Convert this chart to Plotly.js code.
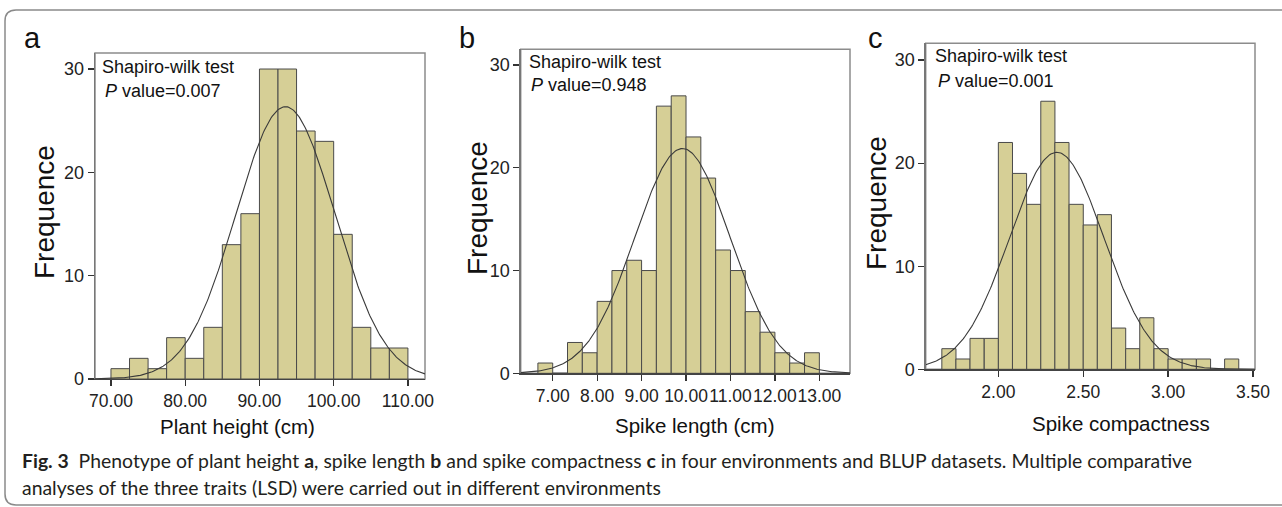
<!DOCTYPE html>
<html>
<head>
<meta charset="utf-8">
<script src="https://cdn.plot.ly/plotly-3.0.1.min.js"></script>
<style>
  html, body { margin: 0; padding: 0; background: #fff; }
  #chart { width: 1282px; height: 507px; }
</style>
</head>
<body>
<div id="chart"></div>
<script>
// ---------- data ----------
const sampleSize = 176;

// Panel a: plant height (cm), bin width 2.5
const aBinLower = [70, 72.5, 75, 77.5, 80, 82.5, 85, 87.5, 90, 92.5, 95, 97.5, 100, 102.5, 105, 107.5];
const aCounts   = [1, 2, 1, 4, 2, 5, 13, 16, 30, 30, 24, 23, 14, 5, 3, 3];
const aBinWidth = 2.5;
const aFit = { mean: 93.5, sd: 6.66 };
const aTickVals = [70, 80, 90, 100, 110];
const aTickText = ["70.00", "80.00", "90.00", "100.00", "110.00"];

// Panel b: spike length (cm), bin width 1/3
const bBinLower = [6.667, 7.000, 7.333, 7.667, 8.000, 8.333, 8.667, 9.000, 9.333, 9.667,
                   10.000, 10.333, 10.667, 11.000, 11.333, 11.667, 12.000, 12.333, 12.667];
const bCounts   = [1, 0, 3, 2, 7, 10, 11, 10, 26, 27, 23, 19, 12, 10, 6, 4, 2, 1, 2];
const bBinWidth = 1 / 3;
const bFit = { mean: 9.92, sd: 1.07 };
const bTickVals = [7, 8, 9, 10, 11, 12, 13];
const bTickText = ["7.00", "8.00", "9.00", "10.00", "11.00", "12.00", "13.00"];

// Panel c: spike compactness, bin width 1/12
const cBinLower = [1.667, 1.750, 1.833, 1.917, 2.000, 2.083, 2.167, 2.250, 2.333, 2.417, 2.500,
                   2.583, 2.667, 2.750, 2.833, 2.917, 3.000, 3.083, 3.167, 3.250, 3.333];
const cCounts   = [2, 1, 3, 3, 22, 19, 16, 26, 22, 16, 14, 15, 4, 2, 5, 2, 1, 1, 1, 0, 1];
const cBinWidth = 1 / 12;
const cFit = { mean: 2.344, sd: 0.278 };
const cTickVals = [2.0, 2.5, 3.0, 3.5];
const cTickText = ["2.00", "2.50", "3.00", "3.50"];

const yTickVals = [0, 10, 20, 30];
const yTitle = "Frequence";
const xTitles = ["Plant height (cm)", "Spike length (cm)", "Spike compactness"];
const panelLetters = ["a", "b", "c"];
const pValues = ["0.007", "0.948", "0.001"];
const testName = "Shapiro-wilk test";
const captionLine1 = "<b>Fig. 3</b>  Phenotype of plant height <b>a</b>, spike length <b>b</b> and spike compactness <b>c</b> in four environments and BLUP datasets. Multiple comparative";
const captionLine2 = "analyses of the three traits (LSD) were carried out in different environments";

// ---------- layout geometry (pixels) ----------
const W = 1282, H = 507;
const px = v => v / W;
const py = v => 1 - v / H;

const panels = [
  { lower: aBinLower, counts: aCounts, w: aBinWidth, fit: aFit, tv: aTickVals, tt: aTickText,
    box: [95, 425, 53, 379], xr: [67.85, 112.3], ymax: 31.55 },
  { lower: bBinLower, counts: bCounts, w: bBinWidth, fit: bFit, tv: bTickVals, tt: bTickText,
    box: [520.7, 850, 49.3, 373.3], xr: [6.28, 13.69], ymax: 31.53 },
  { lower: cBinLower, counts: cCounts, w: cBinWidth, fit: cFit, tv: cTickVals, tt: cTickText,
    box: [925.7, 1255, 43.3, 369.3], xr: [1.572, 3.512], ymax: 31.62 }
];

const FONT = "Liberation Sans, Arial, Helvetica, sans-serif";
const CAPFONT = "Lato, Open Sans, sans-serif";
const barFill = "#d6cf96";
const barLine = "#4a4a4a";

const traces = [];
const layout = {
  width: W, height: H,
  margin: { l: 0, r: 0, t: 0, b: 0 },
  paper_bgcolor: "#ffffff",
  plot_bgcolor: "#ffffff",
  showlegend: false,
  bargap: 0,
  annotations: [],
  shapes: []
};

panels.forEach((p, i) => {
  const n = i === 0 ? "" : String(i + 1);
  const xa = "x" + n, ya = "y" + n;
  traces.push({
    type: "bar",
    x: p.lower.map(e => e + p.w / 2),
    y: p.counts,
    width: p.lower.map(() => p.w),
    xaxis: xa, yaxis: ya,
    marker: { color: barFill, line: { color: barLine, width: 1 } },
    hoverinfo: "x+y"
  });
  // fitted normal curve (scaled to counts)
  const xs = [], ys = [];
  const steps = 300;
  for (let k = 0; k <= steps; k++) {
    const x = p.xr[0] + (p.xr[1] - p.xr[0]) * k / steps;
    const z = (x - p.fit.mean) / p.fit.sd;
    xs.push(x);
    ys.push(sampleSize * p.w * Math.exp(-0.5 * z * z) / (p.fit.sd * Math.sqrt(2 * Math.PI)));
  }
  traces.push({
    type: "scatter", mode: "lines", x: xs, y: ys, xaxis: xa, yaxis: ya,
    line: { color: "#3a3a3a", width: 1.1 }, hoverinfo: "skip"
  });

  const [L, R, T, B] = p.box;
  layout["xaxis" + n] = {
    domain: [px(L), px(R)], range: p.xr, anchor: ya,
    tickmode: "array", tickvals: p.tv, ticktext: p.tt, tickangle: 0,
    ticks: "outside", ticklen: 6, tickwidth: 1.2, tickcolor: "#333",
    showline: true, linecolor: "#444", linewidth: 1.4,
    showgrid: false, zeroline: false, fixedrange: true,
    tickfont: { family: FONT, size: 17.5, color: "#222" }
  };
  layout["yaxis" + n] = {
    domain: [py(B), py(T)], range: [0, p.ymax], anchor: xa,
    tickmode: "array", tickvals: yTickVals, ticktext: yTickVals.map(String),
    ticks: "outside", ticklen: 6, tickwidth: 1.2, tickcolor: "#333",
    showline: true, linecolor: "#777", linewidth: 1.4,
    showgrid: false, zeroline: false, fixedrange: true,
    tickfont: { family: FONT, size: 18, color: "#222" }
  };
  // box frame
  layout.shapes.push({
    type: "rect", xref: xa + " domain", yref: ya + " domain",
    x0: 0, x1: 1, y0: 0, y1: 1, layer: "below",
    line: { color: "#8c8c8c", width: 1.5 }, fillcolor: "rgba(0,0,0,0)"
  });
});

// annotations: panel letters, test text, axis titles
const letterPos = [[32, 38], [467, 38], [875, 38]];
const swPos = [[100, 67], [527, 62], [933, 56]];
const pvPos = [[103, 91], [529, 85], [936, 81]];
const yTitlePos = [[44, 212], [477, 208], [876, 203]];
const xTitlePos = [[237, 426], [695, 425], [1121, 423]];

for (let i = 0; i < 3; i++) {
  layout.annotations.push({
    xref: "paper", yref: "paper", x: px(letterPos[i][0]), y: py(letterPos[i][1]),
    xanchor: "center", yanchor: "middle", showarrow: false, text: panelLetters[i],
    font: { family: FONT, size: 29, color: "#111" }
  });
  layout.annotations.push({
    xref: "paper", yref: "paper", x: px(swPos[i][0]), y: py(swPos[i][1]),
    xanchor: "left", yanchor: "middle", showarrow: false, text: testName,
    font: { family: FONT, size: 18, color: "#111" }
  });
  layout.annotations.push({
    xref: "paper", yref: "paper", x: px(pvPos[i][0]), y: py(pvPos[i][1]),
    xanchor: "left", yanchor: "middle", showarrow: false,
    text: "<i>P</i> value=" + pValues[i],
    font: { family: FONT, size: 18, color: "#111" }
  });
  layout.annotations.push({
    xref: "paper", yref: "paper", x: px(yTitlePos[i][0]), y: py(yTitlePos[i][1]),
    xanchor: "center", yanchor: "middle", showarrow: false, textangle: -90,
    text: yTitle, font: { family: FONT, size: 28, color: "#111" }
  });
  layout.annotations.push({
    xref: "paper", yref: "paper", x: px(xTitlePos[i][0]), y: py(xTitlePos[i][1]),
    xanchor: "center", yanchor: "middle", showarrow: false,
    text: xTitles[i], font: { family: FONT, size: 20.5, color: "#111" }
  });
}

// caption
layout.annotations.push({
  xref: "paper", yref: "paper", x: px(20), y: py(460),
  xanchor: "left", yanchor: "middle", showarrow: false, align: "left",
  text: captionLine1, font: { family: CAPFONT, size: 19.4, color: "#231f20" }
});
layout.annotations.push({
  xref: "paper", yref: "paper", x: px(20), y: py(487),
  xanchor: "left", yanchor: "middle", showarrow: false, align: "left",
  text: captionLine2, font: { family: CAPFONT, size: 19.4, color: "#231f20" }
});

// outer rounded frame
const fx0 = 5, fy0 = 10, fy1 = 505, fx1 = 1295, r = 11;
layout.shapes.push({
  type: "path", xref: "paper", yref: "paper", layer: "below",
  path: `M ${px(fx1)},${py(fy1)} L ${px(fx0 + r)},${py(fy1)} Q ${px(fx0)},${py(fy1)} ${px(fx0)},${py(fy1 - r)} ` +
        `L ${px(fx0)},${py(fy0 + r)} Q ${px(fx0)},${py(fy0)} ${px(fx0 + r)},${py(fy0)} L ${px(fx1)},${py(fy0)}`,
  line: { color: "#8a8a8a", width: 1.5 }
});

Plotly.newPlot("chart", traces, layout, { displayModeBar: false, staticPlot: true });
</script>
</body>
</html>
